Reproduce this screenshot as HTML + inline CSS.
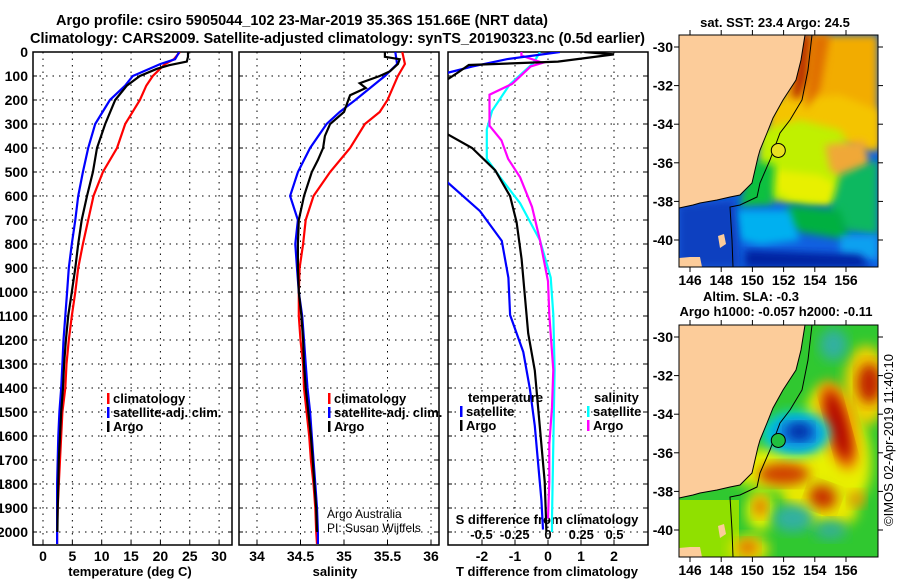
<!DOCTYPE html>
<html><head><meta charset="utf-8">
<style>
html,body{margin:0;padding:0;background:#fff;}
svg{display:block;font-family:"Liberation Sans",Arial,sans-serif;}
.b{font-weight:bold;}
</style></head>
<body>
<svg id="fig" width="900" height="580" viewBox="0 0 900 580">
<defs>
<filter id="blur1" x="-20%" y="-20%" width="140%" height="140%"><feGaussianBlur stdDeviation="4"/></filter>
<filter id="blur2" x="-20%" y="-20%" width="140%" height="140%"><feGaussianBlur stdDeviation="6"/></filter>
<clipPath id="clipM1"><rect x="679" y="35" width="199" height="232"/></clipPath>
<clipPath id="clipM2"><rect x="679" y="325" width="199" height="232"/></clipPath>
<clipPath id="clipP1"><rect x="33" y="52" width="199" height="493"/></clipPath>
<clipPath id="clipP2"><rect x="239" y="52" width="200" height="493"/></clipPath>
<clipPath id="clipP3"><rect x="448" y="52" width="200" height="493"/></clipPath>
</defs>
<text class="b" x="56" y="25" font-size="15" textLength="492" lengthAdjust="spacingAndGlyphs">Argo profile: csiro 5905044_102 23-Mar-2019 35.36S 151.66E (NRT data)</text>
<text class="b" x="30" y="43" font-size="15" textLength="615" lengthAdjust="spacingAndGlyphs">Climatology: CARS2009. Satellite-adjusted climatology: synTS_20190323.nc (0.5d earlier)</text>
<g id="plots"></g>
<g id="maps"></g>
</svg>
<script>
// ---------- data ----------
const tempDepth = [0,30,50,100,140,200,300,400,500,600,700,800,900,1000,1100,1200,1300,1400,1500,1600,1700,1800,1900,2000,2050];
const tempClim  = [23.3,22.3,20.8,18.7,17.6,16.5,14.0,12.6,10.2,8.6,7.7,6.8,6.0,5.5,4.9,4.4,4.0,3.8,3.3,3.1,2.9,2.7,2.5,2.4,2.4];
const tempSat   = [23.2,22.5,20.0,15.3,14.0,11.4,8.9,7.7,6.8,6.0,5.5,4.9,4.4,4.1,3.8,3.5,3.3,3.1,2.8,2.6,2.5,2.4,2.4,2.4,2.4];
const argoDepth = [0,20,40,55,70,100,140,200,300,400,500,600,700,800,900,1000,1100,1200,1300,1400,1500,1600,1700,1800,1900,2000];
const tempArgo  = [24.7,24.7,24.5,21.5,19.4,16.5,14.3,12.3,10.6,9.2,8.5,7.5,6.6,6.0,5.5,4.9,4.3,3.9,3.6,3.4,3.1,2.9,2.7,2.6,2.5,2.45];

const salDepth = [0,50,100,150,200,250,300,400,500,600,700,800,900,1000,1100,1200,1300,1400,1500,1600,1700,1800,1900,2000,2050];
const salClim  = [35.67,35.70,35.62,35.56,35.50,35.41,35.24,35.07,34.84,34.65,34.56,34.53,34.49,34.48,34.48,34.50,34.53,34.54,34.57,34.60,34.62,34.65,34.67,34.68,34.69];
const salSat   = [35.59,35.61,35.47,35.30,35.13,34.95,34.80,34.61,34.47,34.38,34.47,34.44,34.46,34.48,34.52,34.54,34.56,34.58,34.61,34.63,34.65,34.67,34.69,34.70,34.70];
const salArgoDepth = [0,20,30,50,80,100,130,150,180,200,250,300,350,400,450,500,600,700,800,900,1000,1100,1200,1300,1400,1500,1600,1700,1800,1900,2000];
const salArgo  = [35.47,35.47,35.64,35.62,35.53,35.41,35.18,35.25,35.07,35.05,35.00,34.84,34.78,34.76,34.70,34.63,34.54,34.48,34.47,34.47,34.48,34.51,34.53,34.54,34.56,34.59,34.62,34.64,34.66,34.68,34.69];

const dTDepthSat = [0,30,61,92,524,663,787,941,1096,1250,1404,1558,1713,1867,1990];
const dTSat      = [0.36,-1.25,-2.3,-3.2,-3.2,-2.06,-1.4,-1.2,-1.15,-0.75,-0.55,-0.4,-0.3,-0.2,-0.15];
const dTDepthArgo = [0,10,40,54,83,128,331,400,493,601,709,863,1018,1172,1327,1481,1636,1790,1944,2000];
const dTArgo      = [1.1,2.0,0.3,-2.4,-2.7,-3.2,-3.2,-2.3,-1.6,-1.15,-0.95,-0.8,-0.7,-0.6,-0.4,-0.3,-0.2,-0.1,-0.06,-0.05];
const dSDepthSat = [0,46,137,245,322,445,522,630,785,940,1094,1325,1634,1942,2000];
const dSSat      = [-0.06,-0.11,-0.29,-0.42,-0.46,-0.46,-0.36,-0.21,-0.06,0.02,0.04,0.05,0.04,0.03,0.03];
const dSDepthArgo = [0,15,45,60,133,178,240,307,368,445,522,645,785,955,1094,1325,1480,1634,1790,1944];
const dSArgo      = [-0.2,-0.2,-0.04,-0.13,-0.27,-0.44,-0.44,-0.44,-0.35,-0.3,-0.21,-0.12,-0.06,0.0,0.01,0.04,0.03,0.01,0.01,0.0];

const depthTicks = [0,100,200,300,400,500,600,700,800,900,1000,1100,1200,1300,1400,1500,1600,1700,1800,1900,2000];
const tempTicks = [0,5,10,15,20,25,30];
const salTicks = [34,34.5,35,35.5,36];
const salTickLabels = ["34","34.5","35","35.5","36"];
const dTTicks = [-2,-1,0,1,2];
const dSTicks = [-0.5,-0.25,0,0.25,0.5];
const dSTickLabels = ["-0.5","-0.25","0","0.25","0.5"];
const latTicks = [-30,-32,-34,-36,-38,-40];
const lonTicks = [146,148,150,152,154,156];

// ---------- scales ----------
const yD = d => 52 + d*0.24;
const xT = t => 43 + t*5.87;
const xS = s => 257 + (s-34)*87;
const xDT = t => 548 + t*33;
const xDS = s => 548 + s*133;
const NS = "http://www.w3.org/2000/svg";
const plots = document.getElementById('plots');
function mk(tag, attrs, parent){
  const e = document.createElementNS(NS, tag);
  for (const k in attrs) e.setAttribute(k, attrs[k]);
  (parent||plots).appendChild(e);
  return e;
}
function txt(x,y,s,size,anchor,bold,parent){
  const e = mk('text',{x:x,y:y,'font-size':size,'text-anchor':anchor||'start','font-weight':bold===false?'normal':'bold'},parent);
  e.textContent = s;
  return e;
}
function line(values, depths, xf, color, clip, name){
  const pts = values.map((v,i)=>xf(v).toFixed(1)+','+yD(depths[i]).toFixed(1)).join(' ');
  const p = mk('polyline',{points:pts,fill:'none',stroke:color,'stroke-width':2.2,'clip-path':'url(#'+clip+')'});
  
  
  return p;
}
function panel(x0,x1,vgrid,name){
  const g = mk('g',{});
  
  
  depthTicks.forEach(d=>{
    const l = mk('line',{x1:x0,x2:x1,y1:yD(d),y2:yD(d),stroke:'#000','stroke-width':1,'stroke-dasharray':'1.5,5'},g);
    
    
    mk('line',{x1:x0,x2:x0+4,y1:yD(d),y2:yD(d),stroke:'#000'},g);
    mk('line',{x1:x1-4,x2:x1,y1:yD(d),y2:yD(d),stroke:'#000'},g);
  });
  vgrid.forEach(x=>{
    const l = mk('line',{x1:x,x2:x,y1:52,y2:545,stroke:'#000','stroke-width':1,'stroke-dasharray':'1.5,5'},g);
    
    
    mk('line',{x1:x,x2:x,y1:541,y2:545,stroke:'#000'},g);
  });
  const r = mk('rect',{x:x0,y:52,width:x1-x0,height:493,fill:'none',stroke:'#000','stroke-width':1.5},g);
  
  
  return g;
}
panel(33,232,tempTicks.map(xT),'temperature-panel');
panel(239,439,salTicks.map(xS),'salinity-panel');
panel(448,648,dTTicks.map(xDT),'difference-panel');

depthTicks.forEach(d=>{
  const t = txt(28,yD(d)+5,String(d),14,'end');
  
  
});
tempTicks.forEach(v=>{
  const t = txt(xT(v),561,String(v),14,'middle');
  
  
});
salTicks.forEach((v,i)=>{
  const t = txt(xS(v),561,salTickLabels[i],14,'middle');
  
  
});
dTTicks.forEach(v=>{
  const t = txt(xDT(v),561,String(v),14,'middle');
  
  
});
dSTicks.forEach((v,i)=>{
  const t = txt(xDS(v),539,dSTickLabels[i],13,'middle');
  
  
});
let t;
t = txt(130,576,'temperature (deg C)',13,'middle');


t = txt(335,576,'salinity',13,'middle');


t = txt(547,576,'T difference from climatology',13,'middle');


t = txt(547,524,'S difference from climatology',13,'middle');



line(tempClim,tempDepth,xT,'#f00','clipP1','temperature-climatology-line');
line(tempSat,tempDepth,xT,'#00f','clipP1','temperature-satellite-line');
line(tempArgo,argoDepth,xT,'#000','clipP1','temperature-argo-line');
line(salClim,salDepth,xS,'#f00','clipP2','salinity-climatology-line');
line(salSat,salDepth,xS,'#00f','clipP2','salinity-satellite-line');
line(salArgo,salArgoDepth,xS,'#000','clipP2','salinity-argo-line');
line(dSSat,dSDepthSat,xDS,'#0ff','clipP3','sdiff-satellite-line');
line(dSArgo,dSDepthArgo,xDS,'#f0f','clipP3','sdiff-argo-line');
line(dTSat,dTDepthSat,xDT,'#00f','clipP3','tdiff-satellite-line');
line(dTArgo,dTDepthArgo,xDT,'#000','clipP3','tdiff-argo-line');

function legend(x,y,color,label,name){
  const g = mk('g',{});
  
  
  mk('rect',{x:x,y:y-10,width:2.5,height:11,fill:color},g);
  txt(x+6,y,label,13,'start',true,g);
}
legend(107,403,'#f00','climatology','legend-climatology');
legend(107,417,'#00f','satellite-adj. clim.','legend-satellite');
legend(107,431,'#000','Argo','legend-argo');
legend(328,403,'#f00','climatology','legend-sal-climatology');
legend(328,417,'#00f','satellite-adj. clim.','legend-sal-satellite');
legend(328,431,'#000','Argo','legend-sal-argo');
t = txt(468,402,'temperature',13,'start');


legend(460,416,'#00f','satellite','legend-t-satellite');
legend(460,430,'#000','Argo','legend-t-argo');
t = txt(594,402,'salinity',13,'start');


legend(587,416,'#0ff','satellite','legend-s-satellite');
legend(587,430,'#f0f','Argo','legend-s-argo');
t = txt(327,518,'Argo Australia',12,'start',false);


t = txt(327,532,'PI: Susan Wijffels',12,'start',false);



// ---------- maps ----------
const maps = document.getElementById('maps');
const mx = lon => 690 + (lon-146)*15.6;
function mapFrame(top, latTop, clip, name){
  const my = lat => latTop + (-30-lat)*19.3;
  const g = mk('g',{},maps);
  
  
  const inner = mk('g',{'clip-path':'url(#'+clip+')'},g);
  return {g, inner, my, top};
}
function land(inner, dy){
  const p = mk('polygon',{points:[[679,35],[805,35],[801,60],[796,80],[783,100],[773,118],[767,133],[760,150],[758,157],[752,183],[740,195],[730,197],[717,200],[700,203],[693,205],[679,208]].map(a=>a[0]+','+(a[1]+dy)).join(' '),fill:'#fccc9a',stroke:'#000','stroke-width':1},inner);
  
  
  mk('polygon',{points:[[679,258],[690,257],[700,257],[702,267],[679,267]].map(a=>a[0]+','+(a[1]+dy)).join(' '),fill:'#fccc9a'},inner);
  mk('polygon',{points:[[718,236],[724,234],[726,244],[720,248]].map(a=>a[0]+','+(a[1]+dy)).join(' '),fill:'#fccc9a'},inner);
  const c = mk('polyline',{points:[[812,35],[808,70],[802,100],[790,120],[780,133],[770,160],[760,183],[757,197],[740,205],[730,207],[732,240],[733,267]].map(a=>a[0]+','+(a[1]+dy)).join(' '),fill:'none',stroke:'#000','stroke-width':1},inner);
  
  
}
function axes(g, top, my){
  mk('rect',{x:679,y:top,width:199,height:232,fill:'none',stroke:'#000','stroke-width':1},g);
  latTicks.forEach(l=>{
    const tt = txt(673,my(l)+5,String(l),14,'end',true,g);
    
    
    mk('line',{x1:674,x2:679,y1:my(l),y2:my(l),stroke:'#000'},g);
    mk('line',{x1:878,x2:883,y1:my(l),y2:my(l),stroke:'#000'},g);
  });
  lonTicks.forEach(l=>{
    const tt = txt(mx(l),top+250,String(l),14,'middle',true,g);
    
    
    mk('line',{x1:mx(l),x2:mx(l),y1:top-5,y2:top,stroke:'#000'},g);
    mk('line',{x1:mx(l),x2:mx(l),y1:top+232,y2:top+237,stroke:'#000'},g);
  });
}
(function(){
  const m = mapFrame(35,47,'clipM1','sst-map');
  const I = m.inner;
  mk('rect',{x:679,y:35,width:199,height:232,fill:'#1060e0'},I);
  const blobs = [
    ['#f2ac00',[[800,35],[878,35],[878,150],[850,145],[820,130],[790,125],[770,140]]],
    ['#f4c400',[[770,100],[840,95],[878,110],[878,150],[840,140],[800,130],[770,150]]],
    ['#c0f000',[[760,130],[800,120],[840,130],[860,160],[850,200],[810,205],[770,200],[758,170]]],
    ['#f0a838',[[825,145],[865,140],[870,170],[845,180],[830,170]]],
    ['#e8f000',[[775,170],[820,175],[845,190],[830,205],[790,200],[775,190]]],
    ['#10c040',[[752,160],[775,165],[772,205],[740,207],[745,180]]],
    ['#10b860',[[840,175],[878,160],[878,235],[840,230],[830,210]]],
    ['#00b040',[[790,205],[840,210],[850,240],[800,232],[780,225]]],
    ['#00b0f0',[[735,210],[790,210],[800,240],[760,245],[740,240]]],
    ['#10a0f0',[[840,235],[878,235],[878,260],[840,255]]],
    ['#1040c0',[[679,205],[735,200],[740,267],[679,267]]],
    ['#0020a0',[[745,250],[860,255],[870,267],[745,267]]],
    ['#b83000',[[800,35],[812,35],[808,80],[798,100],[792,95]]],
    ['#e07000',[[812,35],[830,35],[820,90],[805,110]]]
  ];
  blobs.forEach(b=>{
    const p = mk('polygon',{points:b[1].map(a=>a.join(',')).join(' '),fill:b[0],filter:'url(#blur1)'},I);
    
    
  });
  land(I,0);
  const c = mk('circle',{cx:mx(151.66),cy:m.my(-35.36),r:7,fill:'#e8e020',stroke:'#000','stroke-width':1},I);
  
  
  axes(m.g,35,m.my);
  const tt = txt(775,27,'sat. SST: 23.4 Argo: 24.5',13,'middle',true,m.g);
  
  
})();
(function(){
  const m = mapFrame(325,337,'clipM2','sla-map');
  const I = m.inner;
  const my = m.my;
  mk('rect',{x:679,y:325,width:199,height:232,fill:'#30c830'},I);
  mk('rect',{x:679,y:500,width:60,height:57,fill:'#90e000'},I);
  const E = (lon,lat,rx,ry,rot,col,name)=>{
    const e = mk('ellipse',{cx:mx(lon),cy:my(lat),rx:rx,ry:ry,fill:col,filter:'url(#blur2)',transform:'rotate('+rot+' '+mx(lon)+' '+my(lat)+')'},I);
    
    
  };
  E(152.2,-36.8,60,22,0,'#e8f000','sla-high');
  E(155.5,-35.5,30,60,-15,'#e8f000','sla-high');
  E(157.3,-32.5,22,40,0,'#f0d000','sla-high');
  E(154.3,-38.5,40,22,20,'#e8e800','sla-high');
  E(150.5,-39.0,14,20,0,'#e8f000','sla-high');
  E(149.8,-41.0,20,14,0,'#e8e000','sla-high');
  E(155.5,-34.6,16,46,-15,'#f08000','sla-high');
  E(155.5,-34.6,9,36,-15,'#b00000','sla-core');
  E(157.5,-32.4,12,20,0,'#c02000','sla-core');
  E(152.0,-37.1,26,11,0,'#d04000','sla-core');
  E(154.5,-38.3,14,12,20,'#c83000','sla-core');
  E(150.5,-38.8,7,10,0,'#e07000','sla-core');
  E(149.7,-40.9,10,8,0,'#e07000','sla-core');
  E(156.7,-38.4,8,8,0,'#f09000','sla-core');
  E(155.2,-30.4,14,16,0,'#30b0a0','sla-low');
  E(152.6,-39.4,20,14,0,'#30b0a0','sla-low');
  E(155.0,-40.0,16,10,0,'#30b090','sla-low');
  E(152.8,-35.0,34,22,0,'#00d0e0','sla-low');
  E(152.9,-35.0,24,15,0,'#1080e0','sla-low');
  E(153.0,-34.9,12,8,0,'#0020a0','sla-core');
  land(I,290);
  const c = mk('circle',{cx:mx(151.66),cy:my(-35.36),r:7,fill:'#20c040',stroke:'#000','stroke-width':1},I);
  
  
  axes(m.g,325,my);
  let tt = txt(751,301,'Altim. SLA: -0.3',13,'middle',true,m.g);
  
  
  tt = txt(776,316,'Argo h1000: -0.057 h2000: -0.11',13,'middle',true,m.g);
  
  
  tt = txt(0,0,'©IMOS 02-Apr-2019 11:40:10',13,'middle',false,m.g);
  tt.setAttribute('transform','translate(893,440) rotate(-90)');
  
  
})();
</script>
</body></html>
